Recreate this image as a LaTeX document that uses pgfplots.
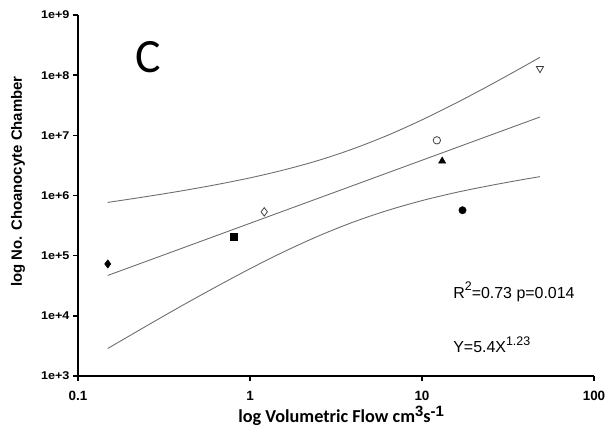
\documentclass[border=0pt]{standalone}
\usepackage{pgfplots}
\pgfplotsset{compat=1.18}
\usepackage{fontspec}
\setmainfont{Liberation Sans}
\newfontfamily\calibri{Carlito}

\definecolor{fitgray}{RGB}{110,110,110}

% wide bold tick labels on the count axis
\newcommand{\ylab}[1]{\scalebox{1.12}[1]{#1}}

\begin{document}
\begin{tikzpicture}
\begin{axis}[
  name=ax,
  scale only axis, width=516bp, height=361bp,
  xmode=log, ymode=log,
  xmin=0.1, xmax=100, ymin=1e3, ymax=1e9,
  axis x line=bottom, axis y line=left,
  axis line style={line width=2.6bp, -},
  xtick={0.1,1,10,100}, xticklabels={0.1,1,10,100},
  ytick={1e3,1e4,1e5,1e6,1e7,1e8,1e9},
  yticklabels={\ylab{1e+3},\ylab{1e+4},\ylab{1e+5},\ylab{1e+6},\ylab{1e+7},\ylab{1e+8},\ylab{1e+9}},
  xminorticks=false, yminorticks=false,
  tick align=outside, major tick length=5bp,
  tick style={black, line width=1.4bp},
  x tick label style={font=\fontsize{13.5}{13.5}\selectfont\bfseries, yshift=-7bp},
  y tick label style={font=\fontsize{11.3}{11.3}\selectfont\bfseries},
  xlabel={log Volumetric Flow cm\raisebox{0.38em}{\fontsize{15}{15}\selectfont\rmfamily\bfseries 3}s\raisebox{0.38em}{\fontsize{15}{15}\selectfont\rmfamily\bfseries -1}},
  xlabel style={font=\fontsize{18.3}{18.3}\selectfont\calibri\bfseries,
    at={(rel axis cs:0.51,0)}, anchor=base, yshift=-47bp},
  ylabel={log No. Choanocyte Chamber},
  ylabel style={font=\fontsize{15}{15}\selectfont\bfseries,
    at={(rel axis cs:0,0.5)}, anchor=center, yshift=60bp, xshift=14bp},
  clip=false,
]
% observed chamber counts against flow
\addplot[only marks, mark=diamond*, mark size=4.2bp, black]
  coordinates {(0.149,7.28e4)};
\addplot[only marks, mark=square*, mark size=3.4bp, black]
  coordinates {(0.807,2.05e5)};
\addplot[only marks, mark=diamond, mark size=4.2bp, black!75, mark options={fill=white, line width=0.8bp}]
  coordinates {(1.21,5.35e5)};
\addplot[only marks, mark=o, mark size=3.7bp, black!75, mark options={fill=white, line width=0.8bp}]
  coordinates {(12.2,8.26e6)};
\addplot[only marks, mark=triangle*, mark size=4.2bp, black]
  coordinates {(13.1,3.73e6)};
\addplot[only marks, mark=*, mark size=3.7bp, black]
  coordinates {(17.2,5.69e5)};
\addplot[only marks, mark=triangle, mark size=4.2bp, black!75, mark options={rotate=180, fill=white, line width=0.8bp}]
  coordinates {(48.5,1.29e8)};

% regression line and 95% confidence band
\addplot[fitgray, line width=0.9bp] coordinates {(0.1489,4.688e4) (48.53,2.018e7)};
\addplot[fitgray, line width=0.9bp, smooth] coordinates {
  (0.1489,7.674e5) (0.2512,9.616e5) (0.3981,1.191e6) (0.6310,1.507e6)
  (1,1.963e6) (1.585,2.673e6) (2.512,3.846e6) (3.981,5.970e6)
  (6.310,1.000e7) (10,1.807e7) (15.85,3.467e7) (25.12,6.950e7)
  (39.81,1.439e8) (48.53,1.982e8)};
\addplot[fitgray, line width=0.9bp, smooth] coordinates {
  (0.1489,2.864e3) (0.2512,6.839e3) (0.3981,1.452e4) (0.6310,3.006e4)
  (1,6.067e4) (1.585,1.172e5) (2.512,2.133e5) (3.981,3.614e5)
  (6.310,5.649e5) (10,8.222e5) (15.85,1.127e6) (25.12,1.472e6)
  (39.81,1.871e6) (48.53,2.056e6)};

\node[font=\fontsize{48}{48}\selectfont\calibri] at (rel axis cs:0.136,0.884) {C};
\node[anchor=base west, font=\fontsize{16}{16}\selectfont, inner sep=0pt]
  at (rel axis cs:0.727,0.216) {R\raisebox{0.45em}{\fontsize{12.5}{12.5}\selectfont 2}=0.73 p=0.014};
\node[anchor=base west, font=\fontsize{16}{16}\selectfont, inner sep=0pt]
  at (rel axis cs:0.727,0.064) {Y=5.4X\raisebox{0.45em}{\fontsize{12.5}{12.5}\selectfont 1.23}};
\end{axis}
\pgfresetboundingbox
\path (ax.south west) ++(-78bp,-63bp) rectangle ([xshift=13bp,yshift=15bp]ax.north east);
\end{tikzpicture}
\end{document}
